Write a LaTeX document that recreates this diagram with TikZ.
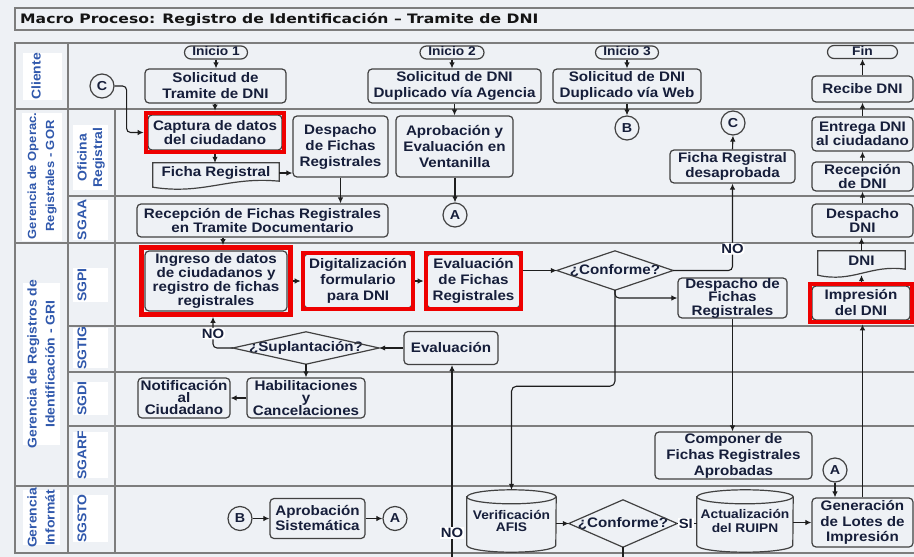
\documentclass[tikz,border=0pt]{standalone}
\usepackage{fontspec}
\setmainfont{Liberation Sans}[FakeStretch=1.1]
\newfontfamily\titlefont{DejaVu Sans}[FakeStretch=1.2]
\usetikzlibrary{arrows.meta,calc,fit}

\definecolor{bg}{RGB}{238,241,245}
\definecolor{lanecol}{RGB}{125,125,125}
\definecolor{boxline}{RGB}{65,65,65}
\definecolor{ink}{RGB}{22,30,58}
\definecolor{lanetext}{RGB}{48,88,172}
\definecolor{redmark}{RGB}{238,0,0}
\definecolor{wirecol}{RGB}{30,30,30}

\tikzset{
  txt/.style={font=\bfseries\fontsize{13.8}{15}\selectfont, text=ink, align=center, inner sep=0pt},
  bs/.style={font=\bfseries\fontsize{13.8}{#1}\selectfont},
  box/.style={txt, draw=boxline, line width=1.2pt, fill=bg, rounded corners=4pt},
  term/.style={box, rounded corners=6.5pt, minimum height=13pt, text height=9pt, text depth=2.5pt,
    font=\bfseries\fontsize{12.5}{13}\selectfont},
  conn/.style={circle, draw=boxline, line width=1.2pt, fill=bg, minimum size=24pt, inner sep=0pt,
    text=ink, font=\bfseries\fontsize{13}{13}\selectfont},
  smalltxt/.style={font=\bfseries\fontsize{12.5}{#1}\selectfont},
  wire/.style={draw=wirecol, line width=1.1pt, -{Latex[length=6pt,width=5.5pt]}},
  plainwire/.style={draw=wirecol, line width=1.1pt},
  outline/.style={draw=boxline, line width=1.2pt},
  hilite/.style={draw=redmark, line width=4.5pt, inner sep=#1},
  flag/.style={fill=white, inner sep=1pt, text=ink, font=\bfseries\fontsize{13.5}{14}\selectfont},
  lanerule/.style={draw=lanecol, line width=1.2pt},
  lanename/.style={rotate=90, text=lanetext, align=center, inner sep=0pt,
    font=\bfseries\fontsize{12.7}{18}\selectfont},
  subname/.style={lanename, font=\bfseries\fontsize{12.7}{15.5}\selectfont},
}

% document symbol with a wavy lower edge
\newcommand\docshape[1]{%
  \draw[outline] (#1.north west) -- (#1.north east) -- ([yshift=2pt]#1.south east)
    .. controls ($(#1.south west)!0.6!(#1.south east)+(0,-7)$) and ($(#1.south west)!0.4!(#1.south east)+(0,12)$)
    .. ([yshift=-4pt]#1.south west) -- cycle;}
% database cylinder drawn round a node
\newcommand\cylshape[2]{%
  \draw[outline] ([yshift=-7pt]#1.north west) -- ([yshift=7pt]#1.south west)
    arc[start angle=180, end angle=360, x radius=#2, y radius=7pt]
    -- ([yshift=-7pt]#1.north east)
    arc[start angle=0, end angle=180, x radius=#2, y radius=7pt] -- cycle;
  \draw[outline] ([yshift=-7pt]#1.north west)
    arc[start angle=180, end angle=360, x radius=#2, y radius=7pt];}
% decision diamond drawn round a node
\newcommand\diashape[1]{%
  \draw[outline] (#1.north) -- (#1.east) -- (#1.south) -- (#1.west) -- cycle;}

\begin{document}
\begin{tikzpicture}[x=1pt,y=-1pt]
\useasboundingbox (0,0) rectangle (914,557);
\clip (0,0) rectangle (914,557);
\fill[bg] (0,0) rectangle (914,557);

% title bar
\draw[lanerule] (15,8) rectangle (930,30);
\node[anchor=west, inner sep=0pt, text={rgb,255:red,20;green,20;blue,20},
  font=\titlefont\bfseries\fontsize{13}{15}\selectfont] (title) at (20,19.5)
  {Macro Proceso: Registro de Identificación – Tramite de DNI};

% swimlane grid
\draw[lanerule] (15,43) rectangle (930,553);
\draw[lanerule] (15,109) -- (930,109);
\draw[lanerule] (15,243) -- (930,243);
\draw[lanerule] (15,486) -- (930,486);
\foreach \yy in {196,326,372,426} \draw[lanerule] (68,\yy) -- (930,\yy);
\draw[lanerule] (68,43) -- (68,553);
\draw[lanerule] (115,109) -- (115,553);

% lane titles
\fill[white] (23,53) rectangle (62,100);
\node[lanename] (lnCli) at (36,76.5) {Cliente};
\fill[white] (22,113) rectangle (62,241);
\node[lanename, font=\bfseries\fontsize{11.8}{18}\selectfont] (lnGor) at (42,176) {Gerencia de Operac.\\Registrales - GOR};
\fill[white] (23,283) rectangle (60,445);
\node[lanename] (lnGri) at (41,364) {Gerencia de Registros de\\Identificación - GRI};
\fill[white] (23,490) rectangle (60,545);
\node[lanename] (lnInf) at (41,518) {Gerencia\\Informát};
\fill[white] (73,125) rectangle (108,190);
\node[subname] (lnOfi) at (91,157.5) {Oficina\\Registral};
\fill[white] (73,200) rectangle (108,240);
\node[subname] (lnSgaa) at (82,220) {SGAA};
\fill[white] (73,268) rectangle (108,302);
\node[subname] (lnSgpi) at (82,285) {SGPI};
\fill[white] (73,328) rectangle (108,368);
\node[subname] (lnSgtig) at (82,348) {SGTIG};
\fill[white] (73,382) rectangle (108,415);
\node[subname] (lnSgdi) at (82,398.5) {SGDI};
\fill[white] (73,432) rectangle (108,478);
\node[subname] (lnSgarf) at (82,455) {SGARF};
\fill[white] (73,495) rectangle (108,542);
\node[subname] (lnSgsto) at (82,518.5) {SGSTO};

% ---- Cliente
\node[term, minimum width=63pt] (ini1) at (216,52.5) {Inicio 1};
\node[term, minimum width=64pt] (ini2) at (452,52.5) {Inicio 2};
\node[term, minimum width=63pt] (ini3) at (627,52.5) {Inicio 3};
\node[term, minimum width=70pt] (fin) at (862.5,52) {Fin};
\node[box, minimum width=141pt, minimum height=34pt, bs=16] (sol1) at (215.5,86) {Solicitud de\\Tramite de DNI};
\node[box, minimum width=173pt, minimum height=34pt, bs=16] (sol2) at (454.5,86) {Solicitud de DNI\\Duplicado vía Agencia};
\node[box, minimum width=148pt, minimum height=34pt, bs=16] (sol3) at (627,86) {Solicitud de DNI\\Duplicado vía Web};
\node[box, minimum width=101pt, minimum height=26pt] (recibe) at (862.5,89) {Recibe DNI};
\node[conn] (cL) at (102,86) {C};

% ---- Oficina Registral
\node[box, minimum width=134pt, minimum height=35pt, bs=14] (capt) at (215,132.5) {Captura de datos\\del ciudadano};
\node[txt, minimum width=126pt, minimum height=20pt] (ficha) at (216,173) {Ficha Registral};
\node[box, minimum width=95pt, minimum height=61pt, bs=16] (desp1) at (340.5,146.5) {Despacho\\de Fichas\\Registrales};
\node[box, minimum width=117pt, minimum height=61pt, bs=16] (aprob) at (454.5,146.5) {Aprobación y\\Evaluación en\\Ventanilla};
\node[conn] (cB1) at (627,128) {B};
\node[conn] (cC2) at (733,123) {C};
\node[box, minimum width=125pt, minimum height=33pt, bs=15] (fdes) at (732.5,166.5) {Ficha Registral\\desaprobada};
\node[box, minimum width=101pt, minimum height=34pt, bs=14] (entrega) at (862.5,134) {Entrega DNI\\al ciudadano};
\node[box, minimum width=101pt, minimum height=29pt, bs=14] (recep) at (862.5,176.5) {Recepción\\de DNI};

% ---- SGAA
\node[box, minimum width=251pt, minimum height=33pt, bs=14] (recfich) at (262.5,220.5) {Recepción de Fichas Registrales\\en Tramite Documentario};
\node[conn] (cA1) at (455,215) {A};
\node[box, minimum width=101pt, minimum height=33pt, bs=14] (despdni) at (862.5,220.5) {Despacho\\DNI};

% ---- SGPI
\node[box, minimum width=142pt, minimum height=60pt, bs=11.7] (ingreso) at (216,281) {Ingreso de datos\\de ciudadanos y\\registro de fichas\\registrales};
\node[box, minimum width=108pt, minimum height=54pt, bs=16] (digit) at (358,281) {Digitalización\\formulario\\para DNI};
\node[box, minimum width=93pt, minimum height=54pt, bs=16] (evalf) at (473.5,281) {Evaluación\\de Fichas\\Registrales};
\node[txt, minimum width=116pt, minimum height=39pt] (conf1) at (615,270.5) {¿Conforme?};
\node[box, minimum width=109pt, minimum height=40pt, bs=13.5] (desp2) at (732.5,298) {Despacho de\\Fichas\\Registrales};
\node[txt, minimum width=87pt, minimum height=20pt] (dni) at (861.5,261) {DNI};
\node[box, minimum width=98pt, minimum height=34pt, bs=16] (impr) at (861,303) {Impresión\\del DNI};

% ---- SGTIG
\node[txt, minimum width=146pt, minimum height=32pt, bs=15] (supl) at (306,348) {¿Suplantación?};
\node[box, minimum width=94pt, minimum height=33pt] (evalu) at (451,348) {Evaluación};

% ---- SGDI
\node[box, minimum width=92pt, minimum height=40pt, bs=12] (notif) at (184,398) {Notificación\\al\\Ciudadano};
\node[box, minimum width=118pt, minimum height=40pt, bs=12] (habil) at (306,398) {Habilitaciones\\y\\Cancelaciones};

% ---- SGARF
\node[box, minimum width=157pt, minimum height=47pt, bs=16] (compo) at (733.5,455.5) {Componer de\\Fichas Registrales\\Aprobadas};
\node[conn] (cA2) at (835,470) {A};

% ---- SGSTO
\node[conn] (cB2) at (240,518.5) {B};
\node[box, minimum width=95pt, minimum height=40pt, bs=15] (aprsis) at (317.5,518.5) {Aprobación\\Sistemática};
\node[conn] (cA3) at (395,518.5) {A};
\node[txt, minimum width=89pt, minimum height=62pt, smalltxt=11.5] (afis) at (511.5,521) {Verificación\\AFIS};
\node[txt, minimum width=108pt, minimum height=47pt] (conf2) at (623,523.5) {¿Conforme?};
\node[txt, minimum width=96pt, minimum height=62pt, smalltxt=14.5] (ruipn) at (745,521) {Actualización\\del RUIPN};
\node[box, minimum width=101pt, minimum height=49pt, bs=15.5] (gener) at (862.5,522.5) {Generación\\de Lotes de\\Impresión};

% special outlines
\docshape{ficha}
\docshape{dni}
\diashape{conf1}
\diashape{supl}
\diashape{conf2}
\cylshape{afis}{44.5pt}
\cylshape{ruipn}{48pt}

% highlighted steps
\node[hilite=1.5pt, fit=(capt)] (captF) {};
\node[hilite=3pt, fit=(ingreso)] (ingF) {};
\node[hilite=0.5pt, fit=(digit)] (digitF) {};
\node[hilite=0.5pt, fit=(evalf)] (evalfF) {};
\node[hilite=1.5pt, fit=(impr)] (imprF) {};

% ---- flow
\draw[wire] (ini1.south) -- (ini1.south |- sol1.north);
\draw[wire] (captF.north |- sol1.south) -- (captF.north);
\draw[wire, rounded corners=4pt] (cL.east) -- ++(12,0) |- (captF.west);
\draw[wire] (captF.south) -- (captF.south |- ficha.north);
\draw[wire] (ficha.east) -- (ficha.east -| desp1.west);
\draw[wire] (desp1.south) -- (desp1.south |- recfich.north);
\draw[wire] (ini2.south) -- (ini2.south |- sol2.north);
\draw[wire] (sol2.south -| aprob.north) -- (aprob.north);
\draw[wire] (aprob.south -| cA1.north) -- (cA1.north);
\draw[wire] (ini3.south) -- (sol3.north);
\draw[wire] (sol3.south) -- (cB1.north);
\draw[wire] ([xshift=7pt]ingF.north |- recfich.south) -- ([xshift=7pt]ingF.north);
\draw[wire] (ingF.east) -- (ingF.east -| digitF.west);
\draw[wire] (digitF.east) -- (digitF.east -| evalfF.west);
\draw[wire] (evalfF.east |- conf1.west) -- (conf1.west);
\draw[wire, rounded corners=4pt] (conf1.east) -| node[flag, pos=0.625] (noA) {NO} (fdes.south);
\draw[wire] (fdes.north) -- (cC2.south);
\draw[wire, rounded corners=4pt] (conf1.south) |- (desp2.west);
\draw[wire, rounded corners=5pt] (conf1.south) -- ++(0,96) -| (afis.north);
\draw[wire] (desp2.south) -- (desp2.south |- compo.north);
\draw[wire, rounded corners=4pt] (supl.west) -| node[flag, pos=0.73] (noB) {NO} ([xshift=-3pt]ingF.south);
\draw[wire] (supl.south) -- (supl.south |- habil.north);
\draw[wire] (habil.west) -- (notif.east);
\draw[wire] (evalu.west) -- (supl.east);
\coordinate (fromBelow) at (452,557);
\draw[wire] (fromBelow) -- node[flag, pos=0.125] (noC) {NO} (fromBelow |- evalu.south);
\draw[wire] (cB2.east) -- (aprsis.west);
\draw[wire] (aprsis.east) -- (cA3.west);
\draw[wire] (afis.east |- conf2.west) -- (conf2.west);
\draw[plainwire] (conf2.east) -- node[flag, anchor=west, pos=0] (siA) {SI} (conf2.east -| ruipn.west);
\draw[wire] (ruipn.east |- gener.west) -- (gener.west);
\draw[wire] (cA2.south) -- (cA2.south |- gener.north);
\draw[wire] (gener.north) -- (gener.north |- imprF.south);
\draw[wire] (imprF.north -| dni.south) -- ([yshift=-4pt]dni.south);
\draw[wire] (dni.north) -- (dni.north |- despdni.south);
\draw[wire] (despdni.north) -- (recep.south);
\draw[wire] (recep.north) -- (entrega.south);
\draw[wire] (entrega.north) -- (recibe.south);
\draw[wire] (recibe.north) -- (recibe.north |- fin.south);
\coordinate (toBelow) at (623,557);
\draw[plainwire] (conf2.south) -- (toBelow);
\end{tikzpicture}
\end{document}
